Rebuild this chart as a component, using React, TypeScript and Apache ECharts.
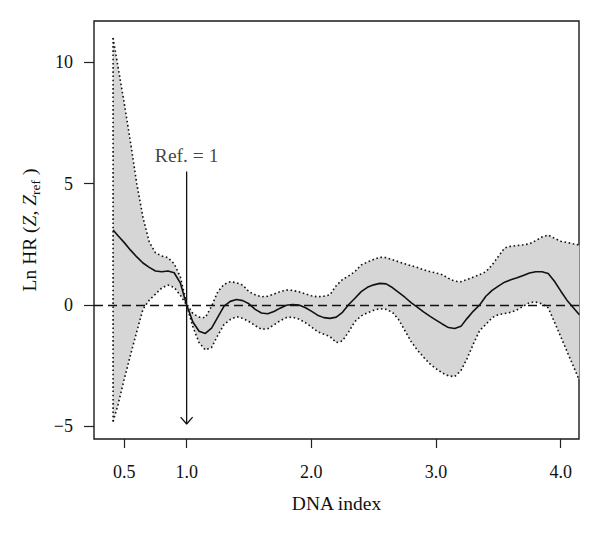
import React, { useEffect, useRef } from "react";
import * as echarts from "echarts";

// DNA index (x) grid
const dnaIndex = [
  0.41, 0.45, 0.5, 0.55, 0.6, 0.65, 0.7, 0.75, 0.8, 0.85, 0.9, 0.95, 1.0,
  1.05, 1.1, 1.15, 1.2, 1.25, 1.3, 1.35, 1.4, 1.45, 1.5, 1.55, 1.6, 1.65,
  1.7, 1.75, 1.8, 1.85, 1.9, 1.95, 2.0, 2.05, 2.1, 2.15, 2.2, 2.25, 2.3,
  2.35, 2.4, 2.45, 2.5, 2.55, 2.6, 2.65, 2.7, 2.75, 2.8, 2.85, 2.9, 2.95,
  3.0, 3.05, 3.1, 3.15, 3.2, 3.25, 3.3, 3.35, 3.4, 3.45, 3.5, 3.55, 3.6,
  3.65, 3.7, 3.75, 3.8, 3.85, 3.9, 3.95, 4.0, 4.05, 4.1, 4.15,
];

// Ln HR estimate
const lnHR = [
  3.09, 2.85, 2.57, 2.26, 1.98, 1.73, 1.55, 1.4, 1.37, 1.4, 1.33, 0.9, 0.0,
  -0.7, -1.08, -1.17, -0.95, -0.5, -0.05, 0.15, 0.23, 0.18, 0.05, -0.18,
  -0.33, -0.36, -0.27, -0.13, -0.01, 0.02, 0.0, -0.1, -0.25, -0.42, -0.52,
  -0.55, -0.5, -0.3, 0.02, 0.28, 0.55, 0.73, 0.83, 0.89, 0.87, 0.72, 0.52,
  0.32, 0.1, -0.09, -0.28, -0.46, -0.62, -0.78, -0.93, -0.97, -0.88, -0.55,
  -0.25, 0.0, 0.36, 0.6, 0.78, 0.94, 1.04, 1.12, 1.22, 1.32, 1.37, 1.37,
  1.3, 0.98, 0.58, 0.2, -0.1, -0.4,
];

// Upper confidence bound
const upperCI = [
  11.0, 9.8, 8.3, 6.7, 5.0, 3.6, 2.6, 2.15, 2.02, 1.95, 1.7, 1.15, 0.05,
  -0.35, -0.5, -0.52, -0.05, 0.55, 0.85, 0.96, 0.92, 0.82, 0.55, 0.42,
  0.34, 0.36, 0.45, 0.55, 0.62, 0.6, 0.55, 0.46, 0.38, 0.34, 0.36, 0.42,
  0.8, 1.05, 1.2, 1.38, 1.65, 1.77, 1.88, 1.97, 1.95, 1.87, 1.78, 1.7,
  1.62, 1.55, 1.45, 1.38, 1.32, 1.25, 1.1, 0.98, 0.96, 1.05, 1.15, 1.25,
  1.37, 1.65, 2.0, 2.35, 2.42, 2.45, 2.48, 2.52, 2.65, 2.8, 2.88, 2.75,
  2.63, 2.58, 2.52, 2.47,
];

// Lower confidence bound
const lowerCI = [
  -4.8, -4.1, -3.05, -2.05, -1.1, -0.17, 0.2, 0.45, 0.7, 0.82, 0.72, 0.4,
  0.0, -0.9, -1.55, -1.85, -1.75, -1.25, -0.8, -0.6, -0.48, -0.55, -0.68,
  -0.85, -1.0, -0.98, -0.82, -0.65, -0.52, -0.5, -0.58, -0.72, -0.9, -1.1,
  -1.2, -1.3, -1.55, -1.48, -1.1, -0.68, -0.45, -0.32, -0.22, -0.15, -0.18,
  -0.3, -0.6, -1.05, -1.5, -1.85, -2.15, -2.42, -2.62, -2.8, -2.92, -2.95,
  -2.7, -2.2, -1.6, -1.05, -0.8, -0.52, -0.4, -0.35, -0.3, -0.2, -0.05,
  0.1, 0.12, 0.05, -0.12, -0.7, -1.3, -1.9, -2.5, -3.1,
];

const xTicks = [0.5, 1.0, 2.0, 3.0, 4.0];
const yTicks = [-5, 0, 5, 10];
const xRange = [0.257, 4.147];
const yRange = [-5.52, 11.7];

const refValue = 1.0;
const refArrowTop = 5.5;
const refArrowTip = -4.9;
const refLabel = "Ref. = 1";

const FONT = "'Liberation Serif', 'DejaVu Serif', serif";
const INK = "#111";

export default function App() {
  const ref = useRef<HTMLDivElement>(null);

  useEffect(() => {
    if (!ref.current) return;
    const chart = echarts.init(ref.current, undefined, { renderer: "svg" });

    const pts = (ys: number[]) => dnaIndex.map((x, i) => [x, ys[i]]);
    const edge = [
      [dnaIndex[0], lowerCI[0]],
      [dnaIndex[0], upperCI[0]],
    ];
    const headDx = 0.048;
    const headDy = 0.28;
    const arrowHead = [
      [refValue - headDx, refArrowTip + headDy],
      [refValue, refArrowTip],
      [refValue + headDx, refArrowTip + headDy],
    ];

    const dotted = {
      color: INK,
      width: 1.6,
      type: [1.6, 2.6] as any,
    };

    chart.setOption({
      animation: false,
      backgroundColor: "#fff",
      grid: {
        left: 94,
        right: 21,
        top: 21,
        bottom: 96,
        show: true,
        borderColor: "#1a1a1a",
        borderWidth: 1.4,
        backgroundColor: "transparent",
      },
      xAxis: {
        type: "value",
        min: xRange[0],
        max: xRange[1],
        axisLine: { show: false, onZero: false },
        axisTick: {
          show: true,
          inside: false,
          length: 9,
          customValues: xTicks,
          lineStyle: { color: "#222", width: 1.2 },
        },
        axisLabel: {
          customValues: xTicks,
          formatter: (v: number) => v.toFixed(1),
          margin: 24,
          fontFamily: FONT,
          fontSize: 18,
          color: INK,
        },
        splitLine: { show: false },
        name: "DNA index",
        nameLocation: "middle",
        nameGap: 54,
        nameTextStyle: { fontFamily: FONT, fontSize: 19.5, color: INK },
      },
      yAxis: {
        type: "value",
        min: yRange[0],
        max: yRange[1],
        axisLine: { show: false, onZero: false },
        axisTick: {
          show: true,
          inside: false,
          length: 10,
          customValues: yTicks,
          lineStyle: { color: "#222", width: 1.2 },
        },
        axisLabel: {
          customValues: yTicks,
          formatter: (v: number) => (v < 0 ? "\u2212" + Math.abs(v) : String(v)),
          margin: 21,
          fontFamily: FONT,
          fontSize: 18,
          color: INK,
        },
        splitLine: { show: false },
        name: "{a|Ln HR (}{i|Z}{a|, }{i|Z}{s|ref}{a| )}",
        nameLocation: "middle",
        nameGap: 52,
        nameTextStyle: {
          fontFamily: FONT,
          fontSize: 19.5,
          color: INK,
          rich: {
            a: { fontFamily: FONT, fontSize: 19.5, color: INK, lineHeight: 26 },
            i: {
              fontFamily: FONT,
              fontSize: 19.5,
              fontStyle: "italic",
              color: INK,
              lineHeight: 26,
            },
            s: {
              fontFamily: FONT,
              fontSize: 13.5,
              color: INK,
              verticalAlign: "bottom",
            },
          },
        },
      },
      series: [
        {
          name: "band",
          type: "custom",
          data: [[dnaIndex[0], lnHR[0]]],
          silent: true,
          z: 1,
          renderItem: (params: any, api: any) => {
            const top = dnaIndex.map((x, i) => api.coord([x, upperCI[i]]));
            const bottom = dnaIndex
              .map((x, i) => api.coord([x, lowerCI[i]]))
              .reverse();
            return {
              type: "polygon",
              shape: { points: top.concat(bottom) },
              style: { fill: "#d6d6d6", stroke: "none" },
            };
          },
        },
        {
          name: "upper",
          type: "line",
          data: pts(upperCI),
          symbol: "none",
          lineStyle: dotted,
          z: 3,
        },
        {
          name: "lower",
          type: "line",
          data: pts(lowerCI),
          symbol: "none",
          lineStyle: dotted,
          z: 3,
        },
        {
          name: "edge",
          type: "line",
          data: edge,
          symbol: "none",
          lineStyle: dotted,
          z: 3,
        },
        {
          name: "estimate",
          type: "line",
          data: pts(lnHR),
          symbol: "none",
          lineStyle: { color: INK, width: 1.6 },
          z: 4,
          markLine: {
            silent: true,
            symbol: "none",
            label: { show: false },
            lineStyle: { color: INK, width: 1.4, type: [9, 5] as any },
            data: [{ yAxis: 0 }],
          },
        },
        {
          name: "refShaft",
          type: "line",
          data: [
            [refValue, refArrowTop],
            [refValue, refArrowTip],
          ],
          symbol: "none",
          lineStyle: { color: INK, width: 1.3 },
          z: 5,
        },
        {
          name: "refHead",
          type: "line",
          data: arrowHead,
          symbol: "none",
          lineStyle: { color: INK, width: 1.3 },
          z: 5,
        },
        {
          name: "refLabel",
          type: "scatter",
          data: [[refValue, refArrowTop]],
          symbol: "circle",
          symbolSize: 1,
          itemStyle: { color: "transparent" },
          label: {
            show: true,
            position: "top",
            distance: 5,
            formatter: refLabel,
            fontFamily: FONT,
            fontSize: 19.5,
            color: INK,
          },
          z: 6,
        },
      ],
    });

    return () => chart.dispose();
  }, []);

  return (
    <div
      ref={ref}
      style={{ position: "fixed", left: 0, top: 0, width: 600, height: 535 }}
    />
  );
}
